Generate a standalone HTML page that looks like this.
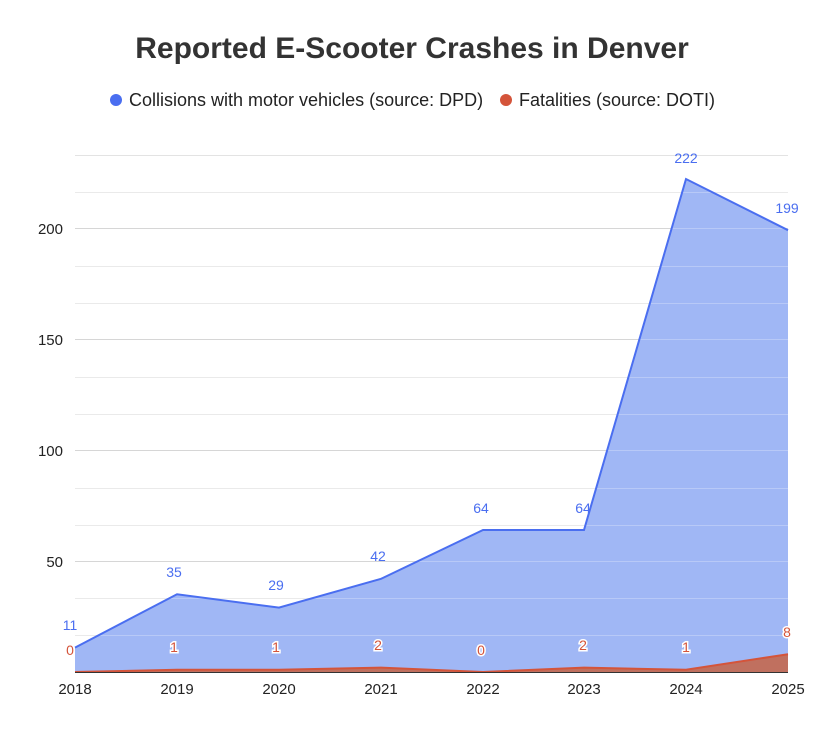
<!DOCTYPE html>
<html><head><meta charset="utf-8"><style>body{margin:0;background:#fff}</style></head><body>
<svg width="825" height="732" xmlns="http://www.w3.org/2000/svg" font-family="Liberation Sans, Arial, sans-serif">
<rect width="825" height="732" fill="#fff"/>
<text x="412" y="58" text-anchor="middle" font-size="30" font-weight="bold" fill="#333">Reported E-Scooter Crashes in Denver</text>
<circle cx="116" cy="100" r="6" fill="#4a6ef0"/>
<text x="129" y="106" font-size="18" fill="#222">Collisions with motor vehicles (source: DPD)</text>
<circle cx="506" cy="100" r="6" fill="#d4543a"/>
<text x="519" y="106" font-size="18" fill="#222">Fatalities (source: DOTI)</text>
<g stroke="#e3e3e3" stroke-width="1">
<line x1="75" x2="788" y1="155.5" y2="155.5"/><line x1="75" x2="788" y1="192.5" y2="192.5"/>
<line x1="75" x2="788" y1="266.5" y2="266.5"/><line x1="75" x2="788" y1="303.5" y2="303.5"/>
<line x1="75" x2="788" y1="377.5" y2="377.5"/><line x1="75" x2="788" y1="414.5" y2="414.5"/>
<line x1="75" x2="788" y1="488.5" y2="488.5"/><line x1="75" x2="788" y1="525.5" y2="525.5"/>
<line x1="75" x2="788" y1="598.5" y2="598.5"/><line x1="75" x2="788" y1="635.5" y2="635.5"/>
</g>
<g stroke="#c8c8c8" stroke-width="1">
<line x1="75" x2="788" y1="228.5" y2="228.5"/><line x1="75" x2="788" y1="339.5" y2="339.5"/>
<line x1="75" x2="788" y1="450.5" y2="450.5"/><line x1="75" x2="788" y1="561.5" y2="561.5"/>
</g>
<g font-size="15" fill="#222" text-anchor="end">
<text x="63" y="234">200</text><text x="63" y="345">150</text><text x="63" y="456">100</text><text x="63" y="567">50</text>
</g>
<polygon points="75,672 75,647.6 177,594.3 279,607.6 381,578.8 483,530 584,530 686,179 788,230.2 788,672" fill="#a0b7f5"/>
<g stroke="#ffffff" stroke-opacity="0.25" stroke-width="1">
<line x1="75" x2="788" y1="192.5" y2="192.5"/><line x1="75" x2="788" y1="228.5" y2="228.5"/>
<line x1="75" x2="788" y1="266.5" y2="266.5"/><line x1="75" x2="788" y1="303.5" y2="303.5"/>
<line x1="75" x2="788" y1="339.5" y2="339.5"/>
<line x1="75" x2="788" y1="377.5" y2="377.5"/><line x1="75" x2="788" y1="414.5" y2="414.5"/>
<line x1="75" x2="788" y1="450.5" y2="450.5"/>
<line x1="75" x2="788" y1="488.5" y2="488.5"/><line x1="75" x2="788" y1="525.5" y2="525.5"/>
<line x1="75" x2="788" y1="561.5" y2="561.5"/>
<line x1="75" x2="788" y1="598.5" y2="598.5"/><line x1="75" x2="788" y1="635.5" y2="635.5"/>
</g>
<polyline points="75,647.6 177,594.3 279,607.6 381,578.8 483,530 584,530 686,179 788,230.2" fill="none" stroke="#4a6ef0" stroke-width="2"/>
<polygon points="75,672 75,672 177,669.8 279,669.8 381,667.6 483,672 584,667.6 686,669.8 788,654.2 788,672" fill="#c0705f"/>
<polyline points="75,672 177,669.8 279,669.8 381,667.6 483,672 584,667.6 686,669.8 788,654.2" fill="none" stroke="#d4543a" stroke-width="2"/>
<line x1="75" x2="788" y1="672.5" y2="672.5" stroke="#333"/>
<g font-size="14" fill="#4a6ef0" text-anchor="middle">
<text x="70" y="630">11</text><text x="174" y="577">35</text><text x="276" y="590">29</text><text x="378" y="561">42</text>
<text x="481" y="513">64</text><text x="583" y="513">64</text><text x="686" y="163">222</text><text x="787" y="213">199</text>
</g>
<g font-size="14" fill="#d4543a" text-anchor="middle" stroke="#fff" stroke-width="3" paint-order="stroke">
<text x="70" y="655">0</text><text x="174" y="652">1</text><text x="276" y="652">1</text><text x="378" y="650">2</text>
<text x="481" y="655">0</text><text x="583" y="650">2</text><text x="686" y="652">1</text><text x="787" y="637">8</text>
</g>
<g font-size="15" fill="#222" text-anchor="middle">
<text x="75" y="694">2018</text><text x="177" y="694">2019</text><text x="279" y="694">2020</text><text x="381" y="694">2021</text>
<text x="483" y="694">2022</text><text x="584" y="694">2023</text><text x="686" y="694">2024</text><text x="788" y="694">2025</text>
</g>
</svg>
</body></html>
